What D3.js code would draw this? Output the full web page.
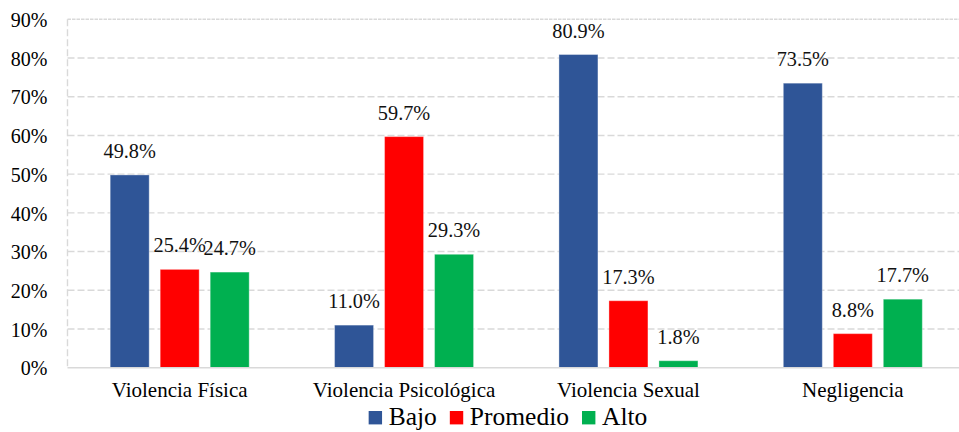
<!DOCTYPE html>
<html>
<head>
<meta charset="utf-8">
<script src="https://cdn.jsdelivr.net/npm/d3@7"></script>
<style>
  body { margin: 0; background: #fff; }
  svg { display: block; }
</style>
</head>
<body>
<div id="chart"></div>
<script>
// data
const categories = ['Violencia Física', 'Violencia Psicológica', 'Violencia Sexual', 'Negligencia']
const seriesNames = ['Bajo', 'Promedio', 'Alto']
const bajo = [0.498, 0.110, 0.809, 0.735]
const promedio = [0.254, 0.597, 0.173, 0.088]
const alto = [0.247, 0.293, 0.018, 0.177]
const yTicks = [0, 0.1, 0.2, 0.3, 0.4, 0.5, 0.6, 0.7, 0.8, 0.9]

const colors = ['#2F5597', '#FF0000', '#00B050']
const serif = '"Liberation Serif", "Times New Roman", monospace'

// canvas
const width = 959,
  height = 432,
  plotLeft = 67.5,
  plotRight = 965,
  plotTop = 19.3,
  plotBottom = 367.7

const svg = d3.select('#chart')
  .append('svg')
  .attr('width', width)
  .attr('height', height)
  .style('font-family', serif)

const rows = categories.map((c, i) => ({
  category: c,
  values: [bajo[i], promedio[i], alto[i]]
}))

// scales
const y = d3.scaleLinear()
  .domain([0, 0.9])
  .range([plotBottom, plotTop])

const x0 = d3.scaleBand()
  .domain(categories)
  .range([plotLeft, plotRight])

const groupWidth = 139
const x1 = d3.scaleBand()
  .domain(seriesNames)
  .range([0, groupWidth])
  .paddingInner(0.22)

const groupOffset = (x0.bandwidth() - groupWidth) / 2

// grid lines
svg.append('g')
  .selectAll('line')
  .data(yTicks.filter(t => t > 0))
  .enter()
  .append('line')
  .attr('x1', plotLeft)
  .attr('x2', width)
  .attr('y1', d => y(d))
  .attr('y2', d => y(d))
  .attr('stroke', '#d9d9d9')
  .attr('stroke-width', 1.4)
  .attr('stroke-dasharray', d => d === 0.9 ? '3.5,1' : '7,3')

// left dashed border
svg.append('line')
  .attr('x1', plotLeft)
  .attr('x2', plotLeft)
  .attr('y1', plotTop)
  .attr('y2', plotBottom)
  .attr('stroke', '#d9d9d9')
  .attr('stroke-width', 1.4)
  .attr('stroke-dasharray', '7,3')

// y axis labels
const yAxis = d3.axisLeft(y)
  .tickValues(yTicks)
  .tickFormat(d3.format('.0%'))
  .tickSize(0)
  .tickPadding(20)

const yg = svg.append('g')
  .attr('transform', `translate(${plotLeft}, 0)`)
  .call(yAxis)
yg.attr('font-family', null).attr('font-size', null)
yg.select('.domain').remove()
yg.selectAll('text')
  .style('font-family', serif)
  .style('font-size', '20px')
  .attr('fill', '#000')
  .attr('dy', '0.36em')

// value labels (drawn below the bars)
const groups = svg.append('g')
  .selectAll('g')
  .data(rows)
  .enter()
  .append('g')
  .attr('transform', d => `translate(${x0(d.category) + groupOffset}, 0)`)

groups.selectAll('text')
  .data(d => d.values.map((v, i) => ({ name: seriesNames[i], value: v })))
  .enter()
  .append('text')
  .attr('x', d => x1(d.name) + x1.bandwidth() / 2)
  .attr('y', d => y(d.value) - 17)
  .attr('text-anchor', 'middle')
  .style('font-family', serif)
  .style('font-size', '20.3px')
  .attr('fill', '#111')
  .text(d => d3.format('.1%')(d.value))

// bars
groups.selectAll('rect')
  .data(d => d.values.map((v, i) => ({ name: seriesNames[i], value: v, i: i })))
  .enter()
  .append('rect')
  .attr('x', d => x1(d.name))
  .attr('y', d => y(d.value))
  .attr('width', x1.bandwidth())
  .attr('height', d => plotBottom - y(d.value))
  .attr('fill', d => colors[d.i])
  .attr('stroke', 'rgba(255,255,255,0.35)')
  .attr('stroke-width', 1)

// x axis line
svg.append('line')
  .attr('x1', plotLeft)
  .attr('x2', width)
  .attr('y1', plotBottom)
  .attr('y2', plotBottom)
  .attr('stroke', '#d9d9d9')
  .attr('stroke-width', 1.6)

// category labels
svg.append('g')
  .selectAll('text')
  .data(categories)
  .enter()
  .append('text')
  .attr('x', d => x0(d) + x0.bandwidth() / 2)
  .attr('y', 396.7)
  .attr('text-anchor', 'middle')
  .style('font-family', serif)
  .style('font-size', '21px')
  .attr('fill', '#000')
  .text(d => d)

// legend
const legend = svg.append('g')
const items = legend.selectAll('g')
  .data(seriesNames)
  .enter()
  .append('g')

items.append('rect')
  .attr('width', 13.4)
  .attr('height', 13.4)
  .attr('y', 411)
  .attr('fill', (d, i) => colors[i])

items.append('text')
  .attr('x', 20)
  .attr('y', 424.5)
  .style('font-family', serif)
  .style('font-size', '25.5px')
  .attr('fill', '#000')
  .text(d => d)

// lay out legend items side by side, centred
let cursor = 0
items.each(function () {
  d3.select(this).attr('transform', `translate(${cursor}, 0)`)
  cursor += this.getBBox().width + 13
})
const legendWidth = cursor - 13
legend.attr('transform', `translate(${508 - legendWidth / 2}, 0)`)
</script>
</body>
</html>
